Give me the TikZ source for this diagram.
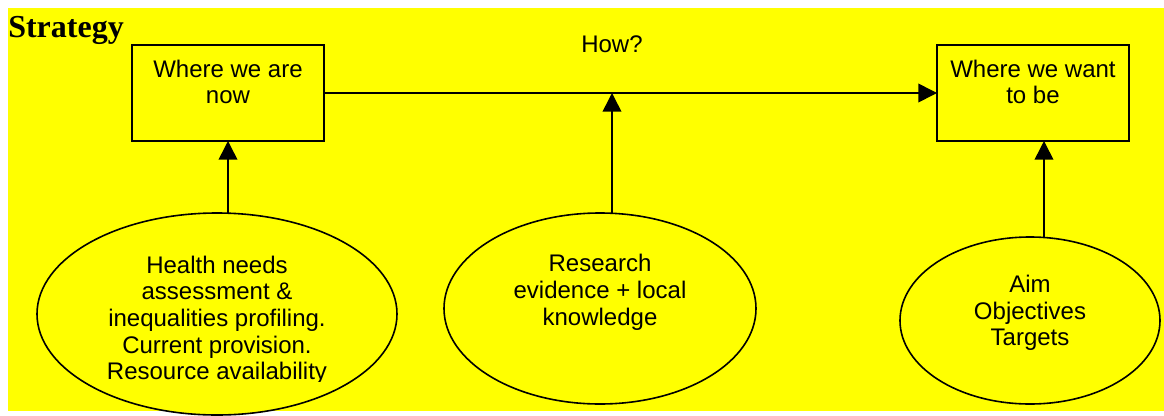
\documentclass[tikz,border=0pt]{standalone}
\usepackage{fontspec}
\setmainfont{Liberation Sans}
\newfontfamily\headfont{Liberation Serif}
\usetikzlibrary{positioning,arrows.meta,shapes.geometric}
\definecolor{bg}{RGB}{255,255,0}
\tikzset{
stage/.style={draw, rectangle, line width=1.2pt, fill=bg,
  minimum width=144pt, minimum height=72pt, inner sep=0pt, outer sep=0pt},
source/.style={draw, ellipse, line width=1.2pt, fill=bg,
  inner sep=0pt, outer sep=0pt},
txt/.style={align=center, inner sep=0pt, font=\fontsize{18}{20}\selectfont},
link/.style={line width=1.2pt, -{Triangle[length=14pt,width=14pt]}},
}

\begin{document}
\begin{tikzpicture}[x=0.75pt, y=-0.75pt]
\useasboundingbox (0,0) rectangle (1164,415);
\fill[bg] (8,8) rectangle (1164,411);

\node[anchor=base west, inner sep=0pt, font=\headfont\bfseries\fontsize{24}{28}\selectfont] (title) at (8,37) {Strategy};

\node[stage] (now) at (228,93) {};
\node[stage] (want) at (1033,93) {};
\node[source, minimum width=270pt, minimum height=151.5pt] (needs) at (217,314) {};
\node[source, minimum width=234pt, minimum height=143.25pt] (research) at (600,308.5) {};
\node[source, minimum width=195pt, minimum height=125.25pt] (aims) at (1030,320.5) {};

\node[txt, below=11pt of now.north] (nowtext) {Where we are\\now};
\node[txt, below=11pt of want.north] (wanttext) {Where we want\\to be};
\begin{scope}
\clip (0,0) rectangle (1164,381);
\node[txt, below=32pt of needs.north] (needstext) {Health needs\\assessment \&\\inequalities profiling.\\Current provision.\\Resource availability};
\end{scope}
\node[txt, below=31pt of research.north] (researchtext) {Research\\evidence + local\\knowledge};
\node[txt, below=28.5pt of aims.north] (aimstext) {Aim\\Objectives\\Targets};

\coordinate (how) at (612,93);
\node[txt, above=30pt of how] (howtext) {How?};
\coordinate (wantfoot) at ([xshift=8.25pt]want.south);

\draw[link] (now.east) -- (want.west);
\draw[link] (needs.north -| now.south) -- (now.south);
\draw[link] (research.north -| how) -- (how);
\draw[link] (aims.north -| wantfoot) -- (wantfoot);
\end{tikzpicture}
\end{document}
